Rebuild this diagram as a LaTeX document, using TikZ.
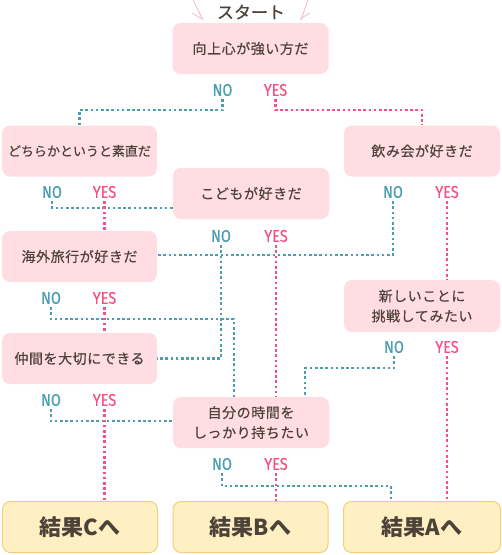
\documentclass[tikz,border=0pt]{standalone}
\usepackage{fontspec}
\newfontfamily\jp{Noto Sans CJK JP}[FakeBold=0.4]
\newfontfamily\jps{Noto Sans CJK JP}[FakeBold=0.4, LetterSpace=4]
\newfontfamily\jpr{Noto Sans CJK JP}
\newfontfamily\lab{Fira Sans}[FakeStretch=0.85, FakeBold=0.5]
\definecolor{boxpink}{RGB}{255,221,227}
\definecolor{resfill}{RGB}{255,240,195}
\definecolor{resdraw}{RGB}{244,206,122}
\definecolor{txt}{RGB}{77,66,56}
\definecolor{noc}{RGB}{74,158,176}
\definecolor{yesc}{RGB}{246,80,130}
\definecolor{sparkc}{RGB}{248,190,205}
\tikzset{
  qbox/.style={rectangle, rounded corners=8pt, fill=boxpink, minimum width=156pt, minimum height=51pt, inner sep=0pt, align=center, text=txt, font=\jps\fontsize{14}{20}\selectfont},
  rbox/.style={rectangle, rounded corners=8pt, fill=resfill, draw=resdraw, line width=1pt, minimum width=155pt, minimum height=51pt, inner sep=0pt, text=txt, font=\jpr\bfseries\fontsize{22}{26}\selectfont},
  nolab/.style={text=noc, font=\lab\fontsize{17}{17}\selectfont, minimum height=18pt, inner sep=0pt},
  yeslab/.style={text=yesc, font=\lab\fontsize{17}{17}\selectfont, minimum height=18pt, inner sep=0pt},
  noline/.style={draw=noc, line width=2.2pt, dash pattern=on 2.6pt off 2.6pt},
  yesline/.style={draw=yesc, line width=2.2pt, dash pattern=on 2.6pt off 2.6pt},
  spark/.style={draw=sparkc, line width=0.9pt}
}
\begin{document}
\begin{tikzpicture}[x=1pt,y=-1pt]
\useasboundingbox (0,0) rectangle (502,555);
% start
\node[text=txt, font=\jp\fontsize{17}{17}\selectfont, inner sep=0pt] (start) at (251,12) {スタート};
\draw[spark] (193,0) -- (203,20);
\draw[spark] (192,13) -- (202,19);
\draw[spark] (308,0) -- (301,20);
\draw[spark] (310,13) -- (300,19);
% question boxes
\node[qbox] (q1) at (250.5,48.5) {向上心が強い方だ};
\node[qbox, minimum width=155pt, font=\jp\fontsize{13}{20}\selectfont] (q2) at (79.5,151) {どちらかというと素直だ};
\node[qbox] (q3) at (422,151) {飲み会が好きだ};
\node[qbox] (q4) at (251,193.5) {こどもが好きだ};
\node[qbox, minimum width=155pt] (q5) at (79.5,256.5) {海外旅行が好きだ};
\node[qbox, minimum height=52pt] (q6) at (422,306) {新しいことに\\挑戦してみたい};
\node[qbox, minimum width=155pt] (q7) at (79.5,358.5) {仲間を大切にできる};
\node[qbox] (q8) at (251,422.5) {自分の時間を\\しっかり持ちたい};
% results
\node[rbox] (rC) at (80,527) {結果Cへ};
\node[rbox] (rB) at (250.5,527) {結果Bへ};
\node[rbox, minimum width=157pt] (rA) at (422,527) {結果Aへ};
% labels
\node[nolab] (q1no) at (222.5,90) {NO};
\node[yeslab] (q1yes) at (275.5,90) {YES};
\node[nolab] (q2no) at (52,192) {NO};
\node[yeslab] (q2yes) at (104.5,192) {YES};
\node[nolab] (q3no) at (393,192) {NO};
\node[yeslab] (q3yes) at (447,192) {YES};
\node[nolab] (q4no) at (221,236) {NO};
\node[yeslab] (q4yes) at (276,236) {YES};
\node[nolab] (q5no) at (51,298) {NO};
\node[yeslab] (q5yes) at (104.5,298) {YES};
\node[nolab] (q6no) at (394,347) {NO};
\node[yeslab] (q6yes) at (447,347) {YES};
\node[nolab] (q7no) at (51,400) {NO};
\node[yeslab] (q7yes) at (104.5,400) {YES};
\node[nolab] (q8no) at (222,464) {NO};
\node[yeslab] (q8yes) at (276,464) {YES};
% connectors
\draw[noline] (q1no.south) -- ++(0,11) -| (q2.north);
\draw[yesline] (q1yes.south) -- ++(0,11) -| (q3.north);
\draw[noline] (q2no.south) |- ([yshift=-14.5pt]q4.west);
\draw[yesline] (q2yes.south) -- (q2yes.south |- q5.north);
\draw[noline] (q3no.south) |- ([yshift=1.5pt]q5.east);
\draw[yesline] (q3yes.south) -- (q3yes.south |- q6.north);
\draw[noline] (q4no.south) |- (q7.east);
\draw[yesline] (q4yes.south) -- (q4yes.south |- q8.north);
\draw[noline] (q5no.south) -- ++(0,12) -| ([xshift=-17pt]q8.north);
\draw[yesline] (q5yes.south) -- (q5yes.south |- q7.north);
\draw[noline] (q6no.south) -- ++(0,12) -| ([xshift=54pt]q8.north);
\draw[yesline] (q6yes.south) -- (q6yes.south |- rA.north);
\draw[noline] (q7no.south) |- ([yshift=1.5pt]q8.west);
\draw[yesline] (q7yes.south) -- (q7yes.south |- rC.north);
\draw[noline] (q8no.south) -- ++(0,13) -| ([xshift=-31pt]rA.north);
\draw[yesline] (q8yes.south) -- (q8yes.south |- rB.north);
\end{tikzpicture}
\end{document}
